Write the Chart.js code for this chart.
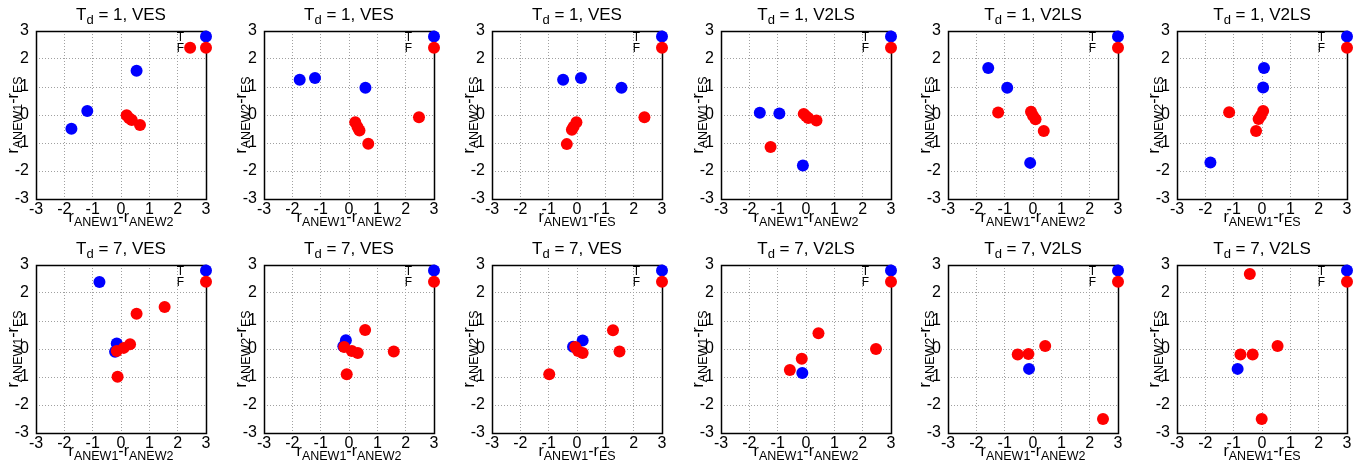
<!DOCTYPE html>
<html>
<head>
<meta charset="utf-8">
<script src="https://cdn.jsdelivr.net/npm/chart.js@4.4.0/dist/chart.umd.min.js"></script>
<style>
    html, body { margin: 0; padding: 0; background: #fff; overflow: hidden; }
    #grid { position: relative; width: 1364px; height: 467px; }
    .panel { position: absolute; width: 223px; height: 233px; }
</style>
</head>
<body>
<div id="grid"></div>
<script>
// Td = 1, VES
const p1TrueX = [0.55, -1.19, -1.75];
const p1TrueY = [1.58, 0.14, -0.49];
const p1FalseX = [0.2, 0.29, 0.38, 0.67, 2.44];
const p1FalseY = [-0.01, -0.12, -0.18, -0.36, 2.4];

const p2TrueX = [0.58, -1.2, -1.74];
const p2TrueY = [0.97, 1.32, 1.26];
const p2FalseX = [0.22, 0.3, 0.37, 0.68, 2.47];
const p2FalseY = [-0.26, -0.43, -0.55, -1.03, -0.08];

const p3TrueX = [1.57, 0.14, -0.49];
const p3TrueY = [0.97, 1.32, 1.26];
const p3FalseX = [-0.02, -0.12, -0.18, -0.36, 2.38];
const p3FalseY = [-0.26, -0.42, -0.53, -1.04, -0.08];

// Td = 1, V2LS
const p4TrueX = [-1.63, -0.94, -0.11];
const p4TrueY = [0.08, 0.05, -1.8];
const p4FalseX = [-0.08, 0.0, 0.08, 0.37, -1.25];
const p4FalseY = [0.04, -0.04, -0.11, -0.2, -1.14];

const p5TrueX = [-1.58, -0.91, -0.1];
const p5TrueY = [1.68, 0.97, -1.71];
const p5FalseX = [-0.07, 0.0, 0.09, 0.38, -1.23];
const p5FalseY = [0.12, -0.03, -0.15, -0.57, 0.09];

const p6TrueX = [0.07, 0.04, -1.82];
const p6TrueY = [1.68, 0.98, -1.7];
const p6FalseX = [0.04, -0.04, -0.12, -0.21, -1.16];
const p6FalseY = [0.14, -0.03, -0.14, -0.57, 0.1];

// Td = 7, VES
const p7TrueX = [-0.76, -0.15, -0.21];
const p7TrueY = [2.39, 0.2, -0.1];
const p7FalseX = [-0.15, 0.1, 0.32, 0.55, 1.54, -0.12];
const p7FalseY = [-0.07, 0.04, 0.17, 1.26, 1.5, -0.99];

const p8TrueX = [-0.11, -0.2];
const p8TrueY = [0.31, 0.1];
const p8FalseX = [-0.17, 0.1, 0.31, 0.57, 1.58, -0.08];
const p8FalseY = [0.07, -0.07, -0.14, 0.68, -0.09, -0.9];

const p9TrueX = [0.2, -0.14];
const p9TrueY = [0.3, 0.08];
const p9FalseX = [-0.06, 0.04, 0.2, 1.27, 1.5, -0.98];
const p9FalseY = [0.07, -0.07, -0.14, 0.67, -0.09, -0.9];

// Td = 7, V2LS
const p10TrueX = [-0.13];
const p10TrueY = [-0.86];
const p10FalseX = [0.44, 2.47, -0.15, -0.57];
const p10FalseY = [0.56, 0.0, -0.35, -0.75];

const p11TrueX = [-0.14];
const p11TrueY = [-0.71];
const p11FalseX = [0.43, -0.54, -0.16, 2.47];
const p11FalseY = [0.11, -0.2, -0.18, -2.5];

const p12TrueX = [-0.86];
const p12TrueY = [-0.71];
const p12FalseX = [-0.43, 0.55, -0.76, -0.33, -0.01];
const p12FalseY = [2.68, 0.11, -0.2, -0.2, -2.5];

// titles: [main, subscript, rest]
const titleRow1 = [['T', 'd', ' = 1, VES'], ['T', 'd', ' = 1, VES'], ['T', 'd', ' = 1, VES'],
                   ['T', 'd', ' = 1, V2LS'], ['T', 'd', ' = 1, V2LS'], ['T', 'd', ' = 1, V2LS']];
const titleRow2 = [['T', 'd', ' = 7, VES'], ['T', 'd', ' = 7, VES'], ['T', 'd', ' = 7, VES'],
                   ['T', 'd', ' = 7, V2LS'], ['T', 'd', ' = 7, V2LS'], ['T', 'd', ' = 7, V2LS']];
// axis labels r_A - r_B
const xLabelSubs = [['ANEW1', 'ANEW2'], ['ANEW1', 'ANEW2'], ['ANEW1', 'ES'],
                    ['ANEW1', 'ANEW2'], ['ANEW1', 'ANEW2'], ['ANEW1', 'ES']];
const yLabelSubs = [['ANEW1', 'ES'], ['ANEW2', 'ES'], ['ANEW2', 'ES'],
                    ['ANEW1', 'ES'], ['ANEW2', 'ES'], ['ANEW2', 'ES']];
const keyLabels = ['T', 'F'];
const keyY = [2.8, 2.4];
const AXIS_MIN = -3, AXIS_MAX = 3;

const BLUE = '#0000ff';
const RED = '#ff0000';
const FONT = '"Liberation Sans", Arial, sans-serif';

const colLefts = [0, 228, 456, 685, 912, 1141];
const rowTops = [0, 234];

function zip(xs, ys) {
    return xs.map((x, i) => ({ x: x, y: ys[i] }));
}

// draw a string made of [text, isSubscript] parts
function drawRich(ctx, parts, x, y, align, size, subSize) {
    let w = 0;
    parts.forEach(([t, sub]) => {
        ctx.font = (sub ? subSize : size) + 'px ' + FONT;
        w += ctx.measureText(t).width;
    });
    let cx = align === 'center' ? x - w / 2 : x;
    ctx.textAlign = 'left';
    ctx.textBaseline = 'alphabetic';
    parts.forEach(([t, sub]) => {
        ctx.font = (sub ? subSize : size) + 'px ' + FONT;
        ctx.fillText(t, cx, sub ? y + 4 : y);
        cx += ctx.measureText(t).width;
    });
}

function axisParts(subs) {
    return [['r', false], [subs[0], true], ['-', false], ['r', false], [subs[1], true]];
}

const panelDecor = {
    id: 'panelDecor',
    afterDatasetsDraw(chart) {
        const { ctx, chartArea: a, scales } = chart;
        const d = chart.options.plugins.panelDecor;
        ctx.save();
        // frame
        ctx.strokeStyle = '#000';
        ctx.lineWidth = 1.5;
        ctx.strokeRect(a.left + 0.5, a.top + 0.5, a.right - a.left, a.bottom - a.top);
        ctx.fillStyle = '#000';
        const midX = (a.left + a.right) / 2;
        const midY = (a.top + a.bottom) / 2;
        // title
        const t = d.title;
        drawRich(ctx, [[t[0], false], [t[1], true], [t[2], false]], midX, 20, 'center', 17, 13);
        // x label
        drawRich(ctx, axisParts(d.xSubs), midX, 222, 'center', 16, 12.5);
        // y label (rotated)
        ctx.save();
        ctx.translate(18, midY);
        ctx.rotate(-Math.PI / 2);
        drawRich(ctx, axisParts(d.ySubs), 0, 0, 'center', 16, 12.5);
        ctx.restore();
        // key
        const colors = [BLUE, RED];
        keyLabels.forEach((lab, i) => {
            const py = scales.y.getPixelForValue(keyY[i]);
            const px = scales.x.getPixelForValue(AXIS_MAX);
            ctx.font = '12px ' + FONT;
            ctx.textAlign = 'right';
            ctx.textBaseline = 'alphabetic';
            ctx.fillStyle = '#000';
            ctx.fillText(lab, a.right - 22, py + 4);
            ctx.beginPath();
            ctx.arc(px, py, 6, 0, Math.PI * 2);
            ctx.fillStyle = colors[i];
            ctx.fill();
        });
        ctx.restore();
    }
};

function makePanel(left, top, title, xSubs, ySubs, tx, ty, fx, fy) {
    const div = document.createElement('div');
    div.className = 'panel';
    div.style.left = left + 'px';
    div.style.top = top + 'px';
    const canvas = document.createElement('canvas');
    canvas.width = 223;
    canvas.height = 233;
    div.appendChild(canvas);
    document.getElementById('grid').appendChild(div);

    const axis = (isX) => ({
        type: 'linear',
        min: AXIS_MIN,
        max: AXIS_MAX,
        ticks: {
            stepSize: 1,
            padding: isX ? 1 : 7,
            color: '#000',
            font: { family: FONT, size: 16 },
            callback: v => String(v)
        },
        grid: { color: '#a0a0a0', drawTicks: false, lineWidth: 1 },
        border: { display: false, dash: [1, 2] },
        afterFit: s => { if (isX) s.height = 34; else s.width = 36; }
    });

    return new Chart(canvas, {
        type: 'scatter',
        data: {
            datasets: [
                { label: 'T', data: zip(tx, ty), backgroundColor: BLUE, borderColor: BLUE,
                  pointRadius: 6, borderWidth: 0, order: 2 },
                { label: 'F', data: zip(fx, fy), backgroundColor: RED, borderColor: RED,
                  pointRadius: 6, borderWidth: 0, order: 1 }
            ]
        },
        options: {
            responsive: false,
            animation: false,
            layout: { padding: { top: 31, right: 17, left: 0, bottom: 0 } },
            plugins: {
                legend: { display: false },
                tooltip: { enabled: false },
                title: { display: false },
                panelDecor: { title: title, xSubs: xSubs, ySubs: ySubs }
            },
            scales: { x: axis(true), y: axis(false) }
        },
        plugins: [panelDecor]
    });
}

const row1 = [
    [p1TrueX, p1TrueY, p1FalseX, p1FalseY],
    [p2TrueX, p2TrueY, p2FalseX, p2FalseY],
    [p3TrueX, p3TrueY, p3FalseX, p3FalseY],
    [p4TrueX, p4TrueY, p4FalseX, p4FalseY],
    [p5TrueX, p5TrueY, p5FalseX, p5FalseY],
    [p6TrueX, p6TrueY, p6FalseX, p6FalseY]
];
const row2 = [
    [p7TrueX, p7TrueY, p7FalseX, p7FalseY],
    [p8TrueX, p8TrueY, p8FalseX, p8FalseY],
    [p9TrueX, p9TrueY, p9FalseX, p9FalseY],
    [p10TrueX, p10TrueY, p10FalseX, p10FalseY],
    [p11TrueX, p11TrueY, p11FalseX, p11FalseY],
    [p12TrueX, p12TrueY, p12FalseX, p12FalseY]
];

row1.forEach((s, i) => makePanel(colLefts[i], rowTops[0], titleRow1[i], xLabelSubs[i], yLabelSubs[i], ...s));
row2.forEach((s, i) => makePanel(colLefts[i], rowTops[1], titleRow2[i], xLabelSubs[i], yLabelSubs[i], ...s));
</script>
</body>
</html>
